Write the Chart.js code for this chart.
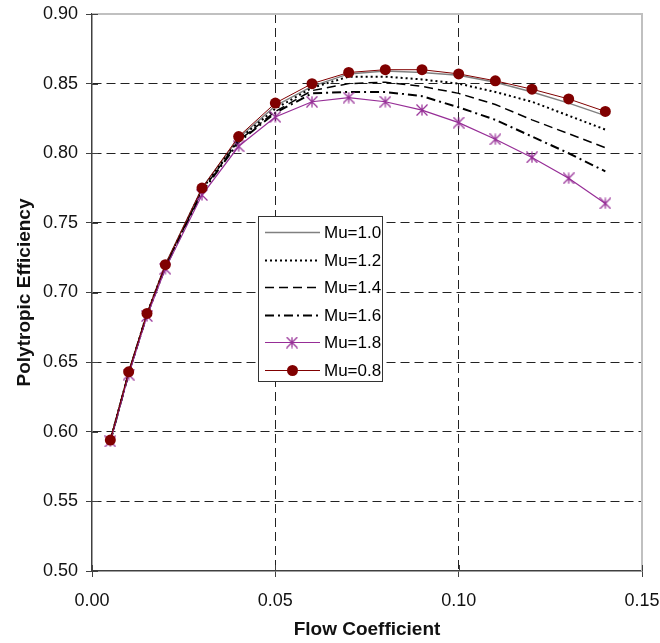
<!DOCTYPE html>
<html>
<head>
<meta charset="utf-8">
<script src="https://cdn.jsdelivr.net/npm/chart.js@4.4.1/dist/chart.umd.min.js"></script>
<style>
  body { margin: 0; background: #fff; }
  #wrap { width: 660px; height: 643px; }
</style>
</head>
<body>
<div id="wrap"><canvas id="effChart" width="660" height="643"></canvas></div>
<script>
// Flow coefficient sample points (x)
const flow = [0.005, 0.01, 0.015, 0.02, 0.03, 0.04, 0.05, 0.06, 0.07, 0.08, 0.09, 0.10, 0.11, 0.12, 0.13, 0.14];

// Polytropic efficiency per Mu
const mu10 = [0.594, 0.643, 0.685, 0.720, 0.775, 0.811, 0.834, 0.848, 0.857, 0.859, 0.858, 0.856, 0.851, 0.844, 0.836, 0.827];
const mu12 = [0.594, 0.642, 0.685, 0.719, 0.774, 0.810, 0.832, 0.847, 0.855, 0.855, 0.853, 0.850, 0.844, 0.837, 0.827, 0.817];
const mu14 = [0.593, 0.642, 0.684, 0.719, 0.773, 0.809, 0.830, 0.845, 0.850, 0.851, 0.848, 0.843, 0.835, 0.824, 0.814, 0.804];
const mu16 = [0.593, 0.642, 0.684, 0.718, 0.772, 0.808, 0.829, 0.843, 0.844, 0.844, 0.841, 0.833, 0.824, 0.812, 0.800, 0.787];
const mu18 = [0.593, 0.641, 0.683, 0.717, 0.770, 0.805, 0.826, 0.837, 0.840, 0.837, 0.831, 0.822, 0.810, 0.797, 0.782, 0.764];
const mu08 = [0.594, 0.643, 0.685, 0.720, 0.775, 0.812, 0.836, 0.850, 0.858, 0.860, 0.860, 0.857, 0.852, 0.846, 0.839, 0.830];

const seriesNames = ['Mu=1.0', 'Mu=1.2', 'Mu=1.4', 'Mu=1.6', 'Mu=1.8', 'Mu=0.8'];

const FONT = '"Liberation Sans", Arial, sans-serif';
const PURPLE = '#962d96';
const DARKRED = '#800000';

// asterisk-like marker (X plus vertical bar), like the spreadsheet star
function makeStar(size, color) {
  const c = document.createElement('canvas');
  c.width = size; c.height = size;
  const g = c.getContext('2d');
  const m = size / 2, r = size / 2 - 0.5;
  g.strokeStyle = color;
  g.lineWidth = 1.2;
  g.beginPath();
  g.moveTo(m - r, m - r); g.lineTo(m + r, m + r);
  g.moveTo(m + r, m - r); g.lineTo(m - r, m + r);
  g.moveTo(m, m - r); g.lineTo(m, m + r);
  g.stroke();
  return c;
}
const starImg = makeStar(12, PURPLE);

function pts(arr) {
  return arr.map((v, i) => ({ x: flow[i], y: v }));
}

const styles = [
  { color: '#808080', width: 1.5, dash: [] },
  { color: '#000', width: 2, dash: [2, 3] },
  { color: '#000', width: 1.5, dash: [9, 5] },
  { color: '#000', width: 2, dash: [9, 4, 2, 4] },
  { color: PURPLE, width: 1.2, dash: [] },
  { color: DARKRED, width: 1, dash: [] }
];
const seriesData = [mu10, mu12, mu14, mu16, mu18, mu08];

const datasets = seriesData.map((arr, i) => ({
  label: seriesNames[i],
  data: pts(arr),
  borderColor: styles[i].color,
  borderWidth: styles[i].width,
  borderDash: styles[i].dash,
  backgroundColor: styles[i].color,
  pointRadius: i === 4 ? 6 : (i === 5 ? 5.5 : 0),
  pointStyle: i === 4 ? starImg : 'circle',
  pointBorderWidth: 0,
  tension: 0,
  order: i === 5 ? 0 : 6 - i
}));

// grey top/right frame plus inward tick marks
const framePlugin = {
  id: 'frame',
  beforeDatasetsDraw(chart) {
    const { ctx, chartArea: a } = chart;
    ctx.save();
    ctx.strokeStyle = '#c0c0c0';
    ctx.lineWidth = 2;
    ctx.beginPath();
    ctx.moveTo(a.left, a.top); ctx.lineTo(a.right, a.top); ctx.lineTo(a.right, a.bottom);
    ctx.stroke();
    ctx.strokeStyle = '#404040';
    ctx.lineWidth = 1;
    ctx.beginPath();
    chart.scales.x.ticks.forEach(t => {
      const px = Math.round(chart.scales.x.getPixelForValue(t.value)) + 0.5;
      ctx.moveTo(px, a.bottom); ctx.lineTo(px, a.bottom - 6);
    });
    chart.scales.y.ticks.forEach(t => {
      const py = Math.round(chart.scales.y.getPixelForValue(t.value)) + 0.5;
      ctx.moveTo(a.left, py); ctx.lineTo(a.left + 6, py);
    });
    ctx.stroke();
    ctx.restore();
  }
};

// boxed legend inside the plot area
const legendPlugin = {
  id: 'boxLegend',
  afterDatasetsDraw(chart) {
    const { ctx } = chart;
    const x0 = 258, y0 = 216, w = 124, h = 165;
    ctx.save();
    ctx.fillStyle = '#fff';
    ctx.fillRect(x0, y0, w, h);
    ctx.strokeStyle = '#333';
    ctx.lineWidth = 1;
    ctx.strokeRect(x0 + 0.5, y0 + 0.5, w, h);
    ctx.font = '17px ' + FONT;
    ctx.textBaseline = 'middle';
    ctx.textAlign = 'left';
    seriesNames.forEach((name, i) => {
      const y = Math.round(y0 + 16 + i * 27.5) + 0.5;
      const s = styles[i];
      ctx.strokeStyle = s.color;
      ctx.lineWidth = s.width;
      ctx.setLineDash(s.dash);
      ctx.beginPath();
      ctx.moveTo(265, y); ctx.lineTo(320, y);
      ctx.stroke();
      ctx.setLineDash([]);
      if (i === 4) ctx.drawImage(starImg, 292 - 6, y - 6);
      if (i === 5) {
        ctx.fillStyle = DARKRED;
        ctx.beginPath(); ctx.arc(292.5, y, 5.5, 0, Math.PI * 2); ctx.fill();
      }
      ctx.fillStyle = '#000';
      ctx.fillText(name, 324, y + 1);
    });
    ctx.restore();
  }
};

const gridDash = [9, 5];

new Chart(document.getElementById('effChart'), {
  type: 'line',
  data: { datasets },
  options: {
    responsive: false,
    animation: false,
    layout: { padding: { left: 0, right: 18, top: 14, bottom: 0 } },
    plugins: { legend: { display: false }, tooltip: { enabled: false } },
    scales: {
      x: {
        type: 'linear',
        min: 0, max: 0.15,
        ticks: {
          stepSize: 0.05,
          color: '#111',
          font: { family: FONT, size: 18 },
          padding: 13,
          callback: v => v.toFixed(2)
        },
        grid: {
          color: c => (c.tick && c.tick.value > 0.001 && c.tick.value < 0.149) ? '#222' : 'rgba(0,0,0,0)',
          tickColor: '#404040',
          tickLength: 6,
          tickBorderDash: []
        },
        border: { display: true, color: '#404040', width: 1.5, dash: gridDash },
        title: {
          display: true,
          text: 'Flow Coefficient',
          color: '#111',
          font: { family: FONT, size: 19, weight: 'bold' },
          padding: { top: 0, bottom: 2 }
        },
        afterFit: s => { s.height = 72; s.paddingLeft = 0; s.paddingRight = 0; }
      },
      y: {
        min: 0.5, max: 0.9,
        ticks: {
          stepSize: 0.05,
          color: '#111',
          font: { family: FONT, size: 18 },
          padding: 8,
          callback: v => v.toFixed(2)
        },
        grid: {
          color: c => (c.tick && c.tick.value > 0.501 && c.tick.value < 0.899) ? '#222' : 'rgba(0,0,0,0)',
          tickColor: '#404040',
          tickLength: 6,
          tickBorderDash: []
        },
        border: { display: true, color: '#404040', width: 1.5, dash: gridDash },
        title: {
          display: true,
          text: 'Polytropic Efficiency',
          color: '#111',
          font: { family: FONT, size: 19, weight: 'bold' },
          padding: { top: 13, bottom: 0 }
        },
        afterFit: s => { s.width = 92; s.paddingTop = 0; s.paddingBottom = 0; }
      }
    }
  },
  plugins: [framePlugin, legendPlugin]
});
</script>
</body>
</html>
